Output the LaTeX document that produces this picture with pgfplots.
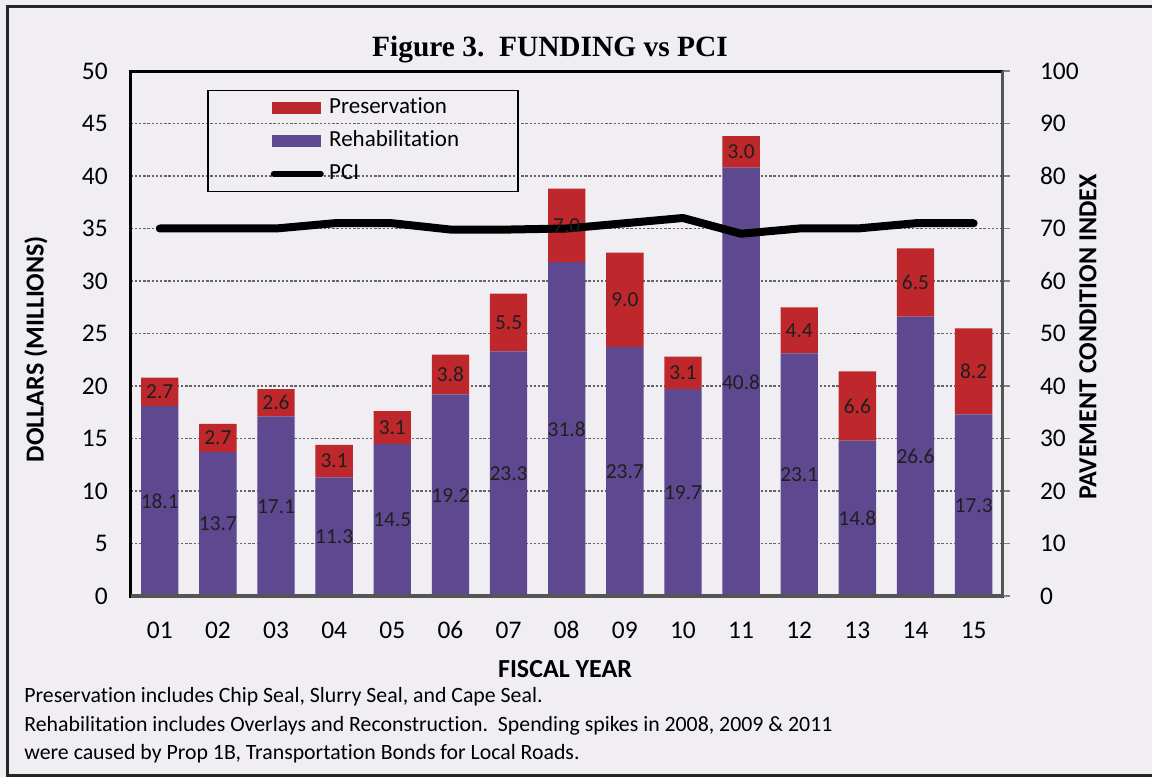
\documentclass[border=0pt]{standalone}
\usepackage{pgfplots}
\usepackage{pgfplotstable}
\pgfplotsset{compat=1.18}
\usepackage{fontspec}
\setmainfont{Carlito}[RawFeature={-liga;-clig;-dlig;-calt}]
\newfontfamily\timesfont{Liberation Serif}
\definecolor{bg}{RGB}{240,238,242}
\definecolor{rehab}{RGB}{94,72,144}
\definecolor{pres}{RGB}{190,40,44}
\definecolor{gridc}{RGB}{100,100,100}
\definecolor{axgray}{RGB}{85,85,85}

\pgfplotstableread{
x rehab pres pci
0  18.1 2.7 70
1  13.7 2.7 70
2  17.1 2.6 70
3  11.3 3.1 71
4  14.5 3.1 71
5  19.2 3.8 69.8
6  23.3 5.5 69.8
7  31.8 7.0 70
8  23.7 9.0 71
9  19.7 3.1 72
10 40.8 3.0 69
11 23.1 4.4 70
12 14.8 6.6 70
13 26.6 6.5 71
14 17.3 8.2 71
}\datatable

\pgfplotstableread{
x y lab
0  9.05  18.1
1  6.85  13.7
2  8.55  17.1
3  5.65  11.3
4  7.25  14.5
5  9.6   19.2
6  11.65 23.3
7  15.9  31.8
8  11.85 23.7
9  9.85  19.7
10 20.4  40.8
11 11.55 23.1
12 7.4   14.8
13 13.3  26.6
14 8.65  17.3
0  19.45 2.7
1  15.05 2.7
2  18.4  2.6
3  12.85 3.1
4  16.05 3.1
5  21.1  3.8
6  26.05 5.5
7  35.3  7.0
8  28.2  9.0
9  21.25 3.1
10 42.3  3.0
11 25.3  4.4
12 18.1  6.6
13 29.85 6.5
14 21.4  8.2
}\labeltable

\begin{document}
\begin{tikzpicture}[x=1pt,y=1pt]
\fill[bg] (-65.35,-90.5) rectangle (510.65,298);
\useasboundingbox (-65.35,-90.5) rectangle (510.65,298);
\draw[line width=1.5pt, black!85] (530,294.8) -- (-61.6,294.8) -- (-61.6,-89.6) -- (530,-89.6);

\begin{axis}[
  at={(0,0)}, anchor=south west,
  width=436pt, height=262.5pt, scale only axis,
  xmin=-0.5, xmax=14.5, ymin=0, ymax=50,
  ybar stacked, bar width=18.67pt,
  xtick={0,...,14},
  xticklabels={01,02,03,04,05,06,07,08,09,10,11,12,13,14,15},
  ytick={0,5,...,50},
  major tick length=0pt,
  ymajorgrids,
  grid style={gridc, dash pattern=on 1.2pt off 0.9pt, line width=0.7pt},
  axis line style={black, line width=1.5pt},
  tick label style={font=\fontsize{12.7}{14}\selectfont},
  /pgf/number format/assume math mode=true,
  yticklabel style={inner xsep=0pt, xshift=-11.3pt},
  xticklabel style={anchor=base, inner sep=0pt, yshift=-21.2pt},
  legend style={at={(0.0875,0.964)}, anchor=north west, draw=black, line width=0.8pt,
    fill=none, inner xsep=0pt, inner ysep=2.9pt, row sep=5pt, column sep=2.7pt,
    font=\fontsize{11.5}{13}\selectfont,
    nodes={inner xsep=0pt, inner ysep=1pt, text height=7.5pt, text depth=2pt, text width=94.5pt, align=left}},
  legend cell align=left,
]
\addplot[fill=rehab, draw=none, forget plot] table[x=x, y=rehab] {\datatable};
\addplot[fill=pres, draw=none, forget plot] table[x=x, y=pres] {\datatable};
\addlegendimage{legend image code/.code={\path[draw=none,fill=none] (0pt,0pt) -- (32pt,0pt); \fill[pres,draw=none] (32pt,-3pt) rectangle (56.5pt,3pt);}}
\addlegendentry{Preservation}
\addlegendimage{legend image code/.code={\path[draw=none,fill=none] (0pt,0pt) -- (32pt,0pt); \fill[rehab,draw=none] (32pt,-3pt) rectangle (56.5pt,3pt);}}
\addlegendentry{Rehabilitation}
\addlegendimage{legend image code/.code={\path[draw=none,fill=none] (0pt,0pt) -- (32pt,0pt); \draw[black, line width=3pt, line cap=round] (33pt,0pt) -- (56.5pt,0pt);}}
\addlegendentry{PCI}
\end{axis}

\begin{axis}[
  at={(0,0)}, anchor=south west,
  width=436pt, height=262.5pt, scale only axis,
  xmin=-0.5, xmax=14.5, ymin=0, ymax=100,
  axis x line*=bottom, axis y line*=right,
  axis line style={axgray, line width=1.7pt},
  xtick=\empty, ytick={0,10,...,100},
  tick align=outside, major tick length=3.5pt,
  ytick style={gray, line width=0.8pt},
  tick label style={font=\fontsize{12.7}{14}\selectfont},
  /pgf/number format/assume math mode=true,
  yticklabel style={inner xsep=0pt, xshift=15pt},
]
\addplot[black, line width=4pt, line join=round, line cap=round, mark=none] table[x=x, y=pci] {\datatable};
\end{axis}

\begin{axis}[
  at={(0,0)}, anchor=south west,
  width=436pt, height=262.5pt, scale only axis,
  xmin=-0.5, xmax=14.5, ymin=0, ymax=50, hide axis,
]
\addplot[draw=none, mark=none, nodes near coords, point meta=explicit symbolic,
  every node near coord/.append style={anchor=center, inner sep=0pt, text=black!88,
    font=\fontsize{10.7}{12}\selectfont}]
  table[x=x, y=y, meta=lab] {\labeltable};
\end{axis}

\node[anchor=base, font=\timesfont\bfseries\fontsize{14.7}{17}\selectfont] at (209.65,269.5) {Figure 3.\ \ FUNDING vs PCI};
\node[rotate=90, font=\bfseries\fontsize{13}{15}\selectfont] at (-47.35,123.5) {DOLLARS (MILLIONS)};
\node[rotate=90, font=\bfseries\fontsize{13}{15}\selectfont] at (478.65,129.5) {PAVEMENT CONDITION INDEX};
\node[anchor=base, font=\bfseries\fontsize{13}{15}\selectfont] at (217.15,-40.5) {FISCAL YEAR};
\node[anchor=base west, inner sep=0pt, font=\fontsize{10.9}{13}\selectfont] at (-53.35,-53.35) {Preservation includes Chip Seal, Slurry Seal, and Cape Seal.};
\node[anchor=base west, inner sep=0pt, font=\fontsize{10.9}{13}\selectfont] at (-53.35,-67.5) {Rehabilitation includes Overlays and Reconstruction.\ \ Spending spikes in 2008, 2009 \& 2011};
\node[anchor=base west, inner sep=0pt, font=\fontsize{10.9}{13}\selectfont] at (-53.35,-81.65) {were caused by Prop 1B, Transportation Bonds for Local Roads.};
\end{tikzpicture}
\end{document}
